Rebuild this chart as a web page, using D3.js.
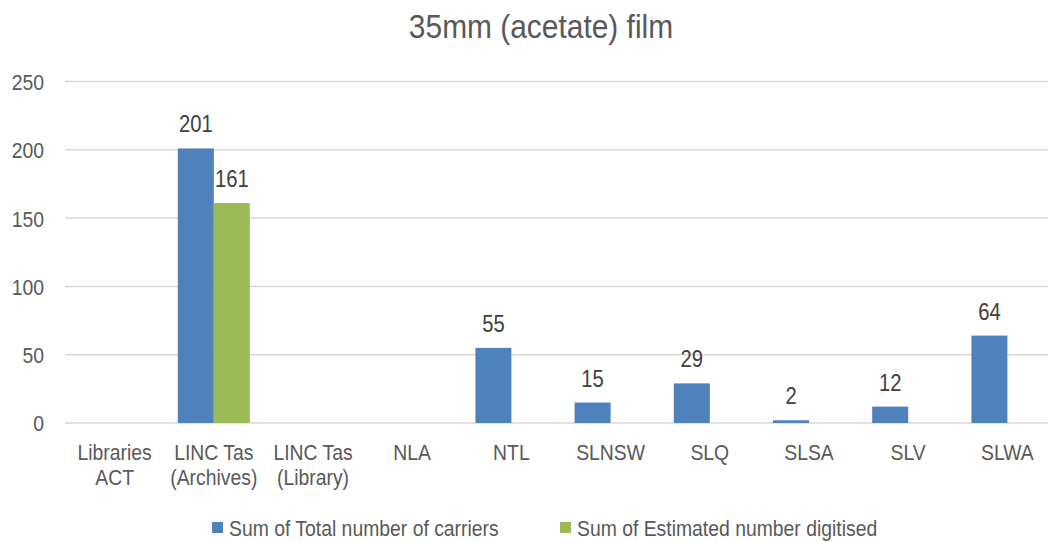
<!DOCTYPE html>
<html>
<head>
<meta charset="utf-8">
<script src="https://cdn.jsdelivr.net/npm/d3@7"></script>
<style>
  html, body { margin: 0; padding: 0; background: #fff; }
  svg { display: block; }
  text { font-family: "Liberation Sans", Arial, sans-serif; }
</style>
</head>
<body>
<svg id="chart" width="1048" height="542"></svg>
<script>
const title = "35mm (acetate) film";
const categories = [
  ["Libraries", "ACT"],
  ["LINC Tas", "(Archives)"],
  ["LINC Tas", "(Library)"],
  ["NLA"],
  ["NTL"],
  ["SLNSW"],
  ["SLQ"],
  ["SLSA"],
  ["SLV"],
  ["SLWA"]
];
const seriesNames = ["Sum of Total number of carriers", "Sum of Estimated number digitised"];
const seriesColors = ["#4f81bd", "#9bbb59"];
const totalCarriers = [null, 201, null, null, 55, 15, 29, 2, 12, 64];
const digitised = [null, 161, null, null, null, null, null, null, null, null];
const yTicks = [0, 50, 100, 150, 200, 250];

const svg = d3.select("#chart");
const W = 1048;
const x0 = 65, x1 = 1057, yTop = 81.5, yBot = 423;
const SX = 0.88; // narrow-font emulation

function narrow(parent, x, y, str, size, anchor, fill) {
  const g = parent.append("g").attr("transform", `translate(${x},${y}) scale(${SX},1)`);
  g.append("text").attr("x", 0).attr("y", 0)
    .attr("text-anchor", anchor).attr("font-size", size).attr("fill", fill).text(str);
  return g;
}

const keys = categories.map((c, i) => i);
const x = d3.scaleBand().domain(keys).range([x0, x1]);
const inner = d3.scaleBand().domain([0, 1]).range([x.bandwidth() / 2 - 36, x.bandwidth() / 2 + 36]);
const y = d3.scaleLinear().domain([0, 250]).range([yBot, yTop]);

// title
narrow(svg, 541, 38, title, 34, "middle", "#595959");

// gridlines
svg.append("g").selectAll("line").data(yTicks).join("line")
  .attr("x1", x0).attr("x2", W)
  .attr("y1", d => y(d)).attr("y2", d => y(d))
  .attr("stroke", "#d9d9d9").attr("stroke-width", 1.5);

// y axis labels
const yAxis = d3.axisLeft(y).tickValues(yTicks).tickSize(0).tickPadding(0);
const gy = svg.append("g").attr("transform", `translate(44,0)`).call(yAxis);
gy.select(".domain").remove();
gy.selectAll("text")
  .attr("x", 0).attr("dy", "0.36em")
  .attr("transform", `scale(${SX},1)`)
  .attr("font-size", 22).attr("fill", "#595959")
  .style("font-family", '"Liberation Sans", Arial, sans-serif');

// bars
const series = [totalCarriers, digitised];
series.forEach((vals, si) => {
  const data = vals.map((v, i) => ({ i, v })).filter(d => d.v != null);
  svg.append("g").selectAll("rect").data(data).join("rect")
    .attr("x", d => x(d.i) + inner(si))
    .attr("width", inner.bandwidth())
    .attr("y", d => y(d.v))
    .attr("height", d => y(0) - y(d.v))
    .attr("fill", seriesColors[si]);
  const lg = svg.append("g");
  data.forEach(d => {
    narrow(lg, x(d.i) + inner(si) + inner.bandwidth() / 2, y(d.v) - 16, d.v, 23, "middle", "#404040");
  });
});

// x axis labels
const gx = svg.append("g");
categories.forEach((lines, i) => {
  lines.forEach((ln, k) => {
    narrow(gx, x(i) + x.bandwidth() / 2, 460 + k * 25, ln, 22, "middle", "#595959");
  });
});

// legend
const legendX = [212, 560];
seriesNames.forEach((name, si) => {
  const g = svg.append("g").attr("transform", `translate(${legendX[si]},0)`);
  g.append("rect").attr("x", 0).attr("y", 522).attr("width", 11).attr("height", 11).attr("fill", seriesColors[si]);
  narrow(g, 17, 536, name, 22, "start", "#595959");
});
</script>
</body>
</html>
